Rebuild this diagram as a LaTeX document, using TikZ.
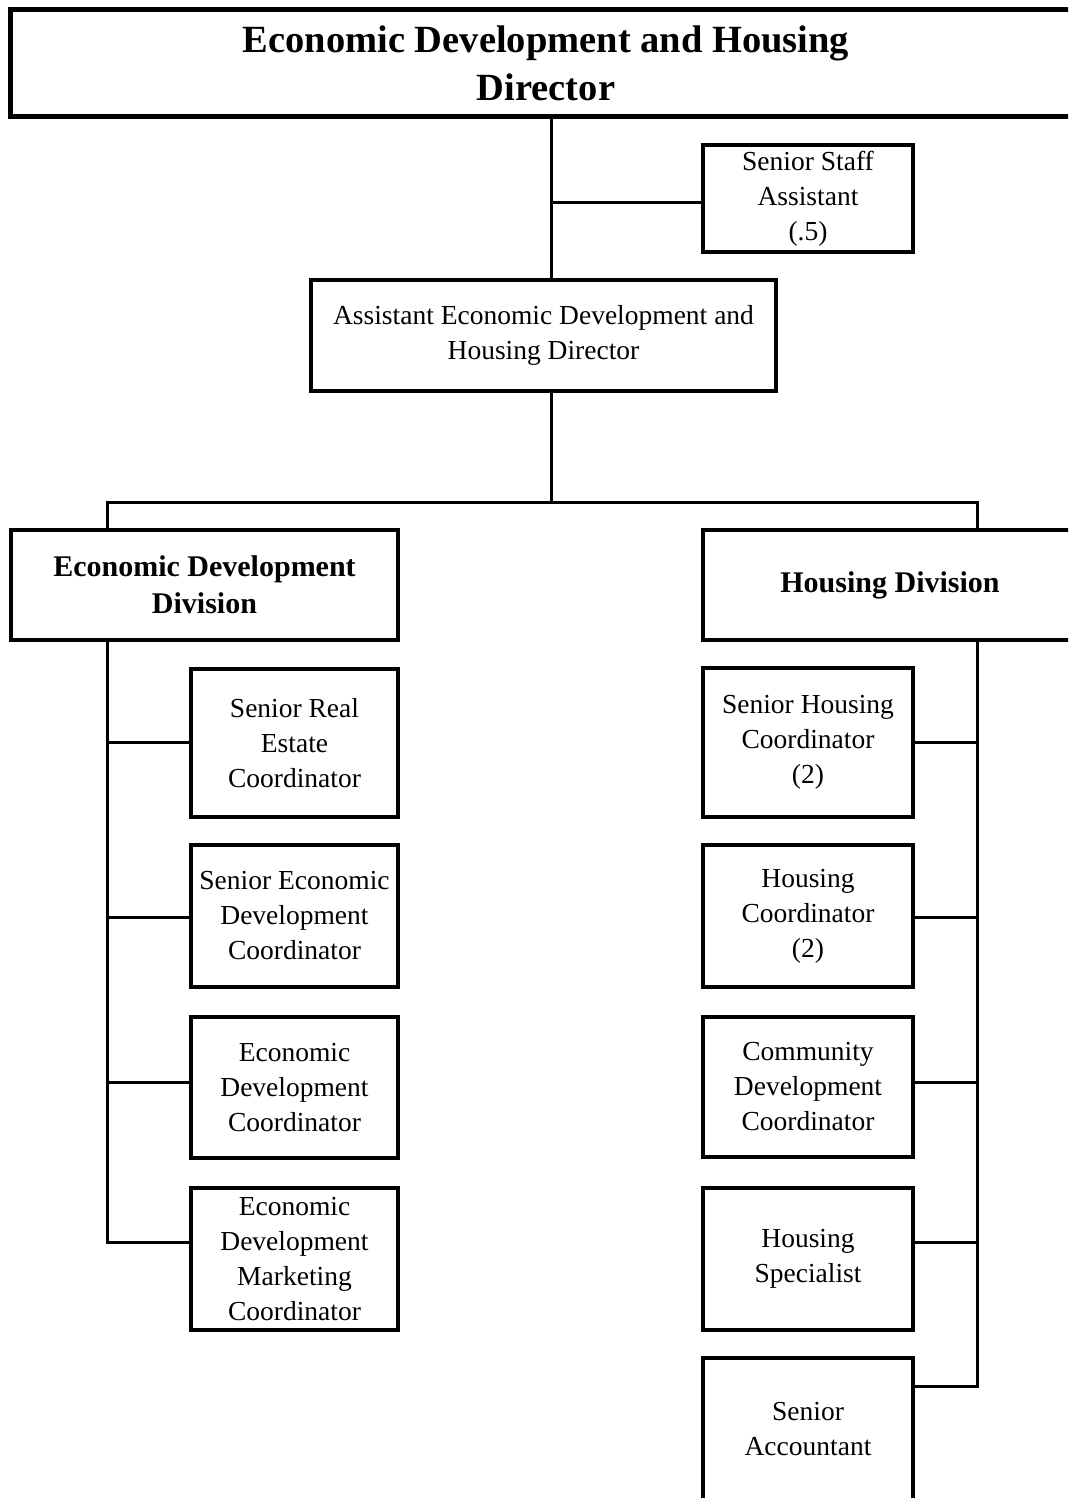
\documentclass[tikz,border=0pt]{standalone}
\usepackage{fontspec}
\setmainfont{Liberation Serif}
\begin{document}
\begin{tikzpicture}[x=1pt,y=-1pt,
  post/.style={draw, line width=3.5pt, align=center, inner sep=0pt,
    font=\fontsize{27.5}{35}\selectfont},
  unit/.style={draw, line width=3.5pt, align=center, inner sep=0pt,
    font=\bfseries\fontsize{30}{37}\selectfont},
  head/.style={draw, line width=5pt, align=center, inner sep=0pt,
    font=\bfseries\fontsize{38.5}{48}\selectfont},
  link/.style={line width=3pt, line join=miter}]
\clip (0,0) rectangle (1068,1498);
\fill[white] (0,0) rectangle (1068,1498);

% director and direct reports
\node[head, minimum width=1072, minimum height=107] (dir) at (546,63.5)
  {Economic Development and Housing\\Director};
\node[post, minimum width=210, minimum height=107] (ssa) at (808,198.5)
  {Senior Staff\\Assistant\\(.5)};
\node[post, minimum width=465, minimum height=111] (asst) at (543.5,335.5)
  {Assistant Economic Development and\\Housing Director};

% divisions
\node[unit, minimum width=387, minimum height=110] (edd) at (204.5,585)
  {Economic Development\\Division};
\node[unit, minimum width=374, minimum height=110] (hd) at (890,585)
  {Housing Division};

% economic development staff
\node[post, minimum width=207, minimum height=148] (sre) at (294.5,743)
  {Senior Real\\Estate\\Coordinator};
\node[post, minimum width=207, minimum height=142] (sedc) at (294.5,916)
  {Senior Economic\\Development\\Coordinator};
\node[post, minimum width=207, minimum height=141] (edc) at (294.5,1087.5)
  {Economic\\Development\\Coordinator};
\node[post, minimum width=207, minimum height=142] (edmc) at (294.5,1259)
  {Economic\\Development\\Marketing\\Coordinator};

% housing staff
\node[post, minimum width=210, minimum height=149] (shc) at (808,742.5)
  {Senior Housing\\Coordinator\\(2)};
\node[post, minimum width=210, minimum height=142] (hc) at (808,916)
  {Housing\\Coordinator\\(2)};
\node[post, minimum width=210, minimum height=140] (cdc) at (808,1087)
  {Community\\Development\\Coordinator};
\node[post, minimum width=210, minimum height=142] (hs) at (808,1259)
  {Housing\\Specialist};
\node[post, minimum width=210, minimum height=143] (sa) at (808,1429.5)
  {Senior\\Accountant};

% connector guide positions
\coordinate (spine) at (551,0);
\coordinate (bar) at (551,502);
\coordinate (lx) at (107,0);
\coordinate (rx) at (977,0);
\coordinate (r1) at (0,742);
\coordinate (r2) at (0,917);
\coordinate (r3) at (0,1082);
\coordinate (r4) at (0,1242);
\coordinate (r5) at (0,1386);
\coordinate (rs) at (0,202);

% top spine
\draw[link] (spine |- dir.south) -- (spine |- asst.north);
\draw[link] (spine |- rs) -- (ssa.west |- rs);
\draw[link] (spine |- asst.south) -- (bar);
\draw[link] (lx |- edd.north) -- (lx |- bar) -- (rx |- bar) -- (rx |- hd.north);

% economic development column
\draw[link] (lx |- edd.south) -- (lx |- r4) -- (edmc.west |- r4);
\draw[link] (lx |- r1) -- (sre.west |- r1);
\draw[link] (lx |- r2) -- (sedc.west |- r2);
\draw[link] (lx |- r3) -- (edc.west |- r3);

% housing column
\draw[link] (rx |- hd.south) -- (rx |- r5) -- (sa.east |- r5);
\draw[link] (rx |- r1) -- (shc.east |- r1);
\draw[link] (rx |- r2) -- (hc.east |- r2);
\draw[link] (rx |- r3) -- (cdc.east |- r3);
\draw[link] (rx |- r4) -- (hs.east |- r4);
\end{tikzpicture}
\end{document}
